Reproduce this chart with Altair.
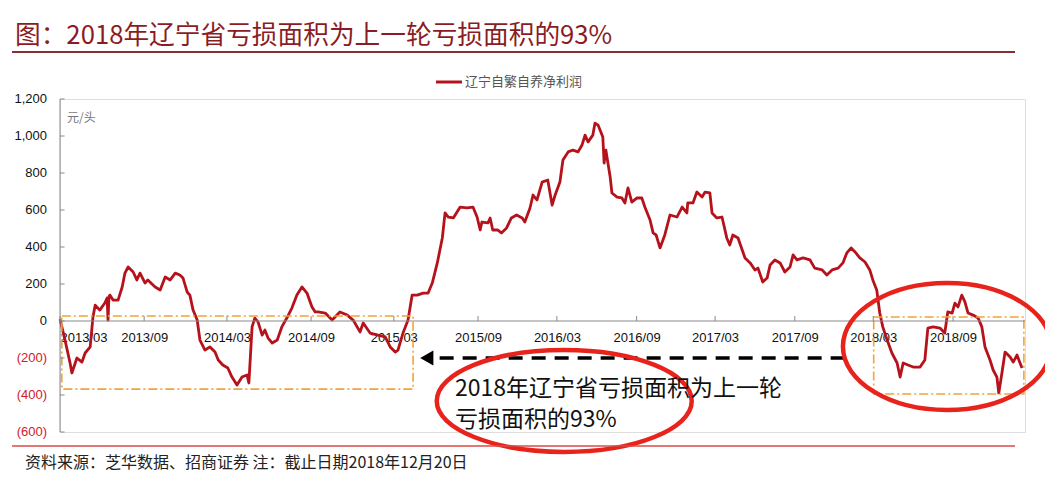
import altair as alt
import pandas as pd

# ---------------- data ----------------
dates = [
    "2013-03-01", "2013-03-12", "2013-03-23", "2013-03-27", "2013-04-07", "2013-04-18", "2013-04-25",
    "2013-05-06", "2013-05-12", "2013-05-17", "2013-05-27", "2013-06-07", "2013-06-12", "2013-06-14",
    "2013-06-16", "2013-06-18", "2013-06-25", "2013-07-06", "2013-07-15", "2013-07-21", "2013-07-28",
    "2013-08-08", "2013-08-16", "2013-08-23", "2013-09-03", "2013-09-09", "2013-09-25", "2013-10-06",
    "2013-10-17", "2013-10-28", "2013-11-08", "2013-11-18", "2013-11-25", "2013-12-04", "2013-12-10",
    "2013-12-17", "2013-12-26", "2014-01-01", "2014-01-12", "2014-01-23", "2014-02-03", "2014-02-10",
    "2014-02-20", "2014-03-03", "2014-03-12", "2014-03-23", "2014-04-03", "2014-04-14", "2014-04-18",
    "2014-04-25", "2014-05-01", "2014-05-08", "2014-05-17", "2014-05-23", "2014-05-30", "2014-06-08",
    "2014-06-19", "2014-06-29", "2014-07-10", "2014-07-21", "2014-08-01", "2014-08-12", "2014-08-23",
    "2014-09-03", "2014-09-10", "2014-09-16", "2014-10-02", "2014-10-17", "2014-11-03", "2014-11-19",
    "2014-12-02", "2014-12-17", "2014-12-24", "2015-01-08", "2015-01-25", "2015-02-10", "2015-02-21",
    "2015-03-04", "2015-03-10", "2015-03-21", "2015-04-01", "2015-04-10", "2015-04-21", "2015-05-04",
    "2015-05-15", "2015-05-24", "2015-06-04", "2015-06-15", "2015-06-21", "2015-06-28", "2015-07-09",
    "2015-07-24", "2015-08-08", "2015-08-21", "2015-08-30", "2015-09-06", "2015-09-10", "2015-09-24",
    "2015-09-29", "2015-10-05", "2015-10-16", "2015-10-25", "2015-11-06", "2015-11-17", "2015-11-29",
    "2015-12-12", "2015-12-18", "2015-12-30", "2016-01-06", "2016-01-15", "2016-01-27", "2016-02-09",
    "2016-02-19", "2016-02-26", "2016-03-08", "2016-03-15", "2016-03-27", "2016-04-07", "2016-04-19",
    "2016-04-28", "2016-05-05", "2016-05-12", "2016-05-23", "2016-05-28", "2016-06-04", "2016-06-15",
    "2016-06-18", "2016-06-22", "2016-07-02", "2016-07-06", "2016-07-18", "2016-07-29", "2016-08-05",
    "2016-08-12", "2016-08-21", "2016-09-02", "2016-09-13", "2016-09-20", "2016-10-02", "2016-10-09",
    "2016-10-16", "2016-10-25", "2016-11-05", "2016-11-17", "2016-12-03", "2016-12-15", "2016-12-26",
    "2016-12-28", "2017-01-09", "2017-01-18", "2017-01-30", "2017-02-06", "2017-02-17", "2017-02-22",
    "2017-03-05", "2017-03-17", "2017-03-28", "2017-04-04", "2017-04-11", "2017-04-23", "2017-05-09",
    "2017-05-21", "2017-06-01", "2017-06-08", "2017-06-19", "2017-06-29", "2017-07-06", "2017-07-17",
    "2017-07-29", "2017-08-09", "2017-08-21", "2017-08-28", "2017-09-06", "2017-09-20", "2017-10-06",
    "2017-10-17", "2017-11-03", "2017-11-14", "2017-11-26", "2017-12-10", "2017-12-21", "2017-12-30",
    "2018-01-09", "2018-01-18", "2018-01-29", "2018-02-10", "2018-02-21", "2018-02-28", "2018-03-09",
    "2018-03-16", "2018-03-23", "2018-04-02", "2018-04-13", "2018-04-25", "2018-05-02", "2018-05-09",
    "2018-05-20", "2018-06-01", "2018-06-17", "2018-06-28", "2018-07-05", "2018-07-17", "2018-08-02",
    "2018-08-13", "2018-08-20", "2018-08-30", "2018-09-04", "2018-09-09", "2018-09-15", "2018-09-20",
    "2018-09-25", "2018-10-03", "2018-10-11", "2018-10-17", "2018-10-22", "2018-10-30", "2018-11-04",
    "2018-11-10", "2018-11-13", "2018-11-18", "2018-11-23", "2018-12-01", "2018-12-06", "2018-12-12",
    "2018-12-15", "2018-12-20",
]
values = [
    10, -103, -227, -281, -200, -222, -173,
    -140, 20, 86, 59, 97, 124, 5,
    130, 140, 113, 113, 184, 259, 292,
    265, 222, 259, 205, 222, 184, 168,
    238, 222, 259, 249, 232, 157, 140,
    59, 5, -103, -157, -140, -168, -211,
    -238, -254, -303, -346, -303, -292, -335,
    -32, 16, -5, -76, -49, -92, -119,
    -103, -32, 16, 70, 140, 184, 151,
    76, 49, 49, 43, 5, 49, 32,
    5, -59, -11, -65, -76, -86, -140,
    -168, -157, -65, 5, 140, 140, 151,
    151, 205, 314, 449, 584, 562, 557,
    616, 611, 616, 562, 492, 535, 530,
    557, 492, 492, 476, 503, 557, 573,
    557, 535, 611, 681, 654, 751, 762,
    627, 681, 751, 870, 914, 924, 914,
    951, 1005, 968, 1005, 1070, 1059, 995,
    854, 924, 778, 692, 670, 665, 638,
    719, 643, 665, 665, 616, 546, 476,
    465, 395, 465, 573, 562, 616, 584,
    638, 638, 697, 670, 697, 692, 584,
    557, 562, 449, 411, 465, 449, 341,
    314, 276, 286, 211, 232, 303, 330,
    314, 265, 292, 357, 330, 341, 330,
    286, 276, 249, 276, 286, 314, 368,
    395, 373, 341, 319, 276, 222, 168,
    43, -32, -103, -173, -227, -303, -227,
    -238, -249, -249, -211, -38, -32, -38,
    -65, 49, 43, 97, 76, 140, 103,
    43, 32, 16, -32, -140, -211, -265,
    -303, -389, -281, -168, -195, -222, -184,
    -211, -254,
]

x_tick_dates = ["2013-03-01", "2013-09-01", "2014-03-01", "2014-09-01", "2015-03-01", "2015-09-01",
                "2016-03-01", "2016-09-01", "2017-03-01", "2017-09-01", "2018-03-01", "2018-09-01"]
y_ticks = [-600, -400, -200, 0, 200, 400, 600, 800, 1000, 1200]
y_tick_labels = ["(600)", "(400)", "(200)", "0", "200", "400", "600", "800", "1,000", "1,200"]

series_name = "辽宁自繁自养净利润"
title_text = "图：2018年辽宁省亏损面积为上一轮亏损面积的93%"
unit_text = "元/头"
note_lines = ["2018年辽宁省亏损面积为上一轮", "亏损面积的93%"]
source_text = "资料来源：芝华数据、招商证券 注：截止日期2018年12月20日"

# highlighted loss periods (dash-dot boxes)
box_start = ["2013-03-05", "2018-03-02"]
box_end = ["2015-04-12", "2018-12-23"]
box_top = [27, 22]
box_bottom = [-368, -395]

# arrow from 2018 loss period back to previous one
arrow_from = ["2017-12-25"]
arrow_to = ["2015-05-26"]
arrow_head = ["2015-05-12"]
arrow_level = [-200]

# ellipse centers
ell1_date, ell1_val = ["2016-03-18"], [-432]
ell2_date, ell2_val = ["2018-08-18"], [-138]

# category-style x axis of the source: piecewise time scale (breakpoints and their pixel offsets)
scale_breaks = ["2013-03-01", "2015-09-01", "2018-09-01", "2018-12-20"]
scale_break_px = [0, 418, 893, 962]

# ---------------- build chart ----------------
LINE = "#B5121B"
ORANGE = "#F2A33A"
RED_RING = "#E8231C"
AXIS_GREY = "#8a8a8a"
CJK = "Noto Sans CJK SC"


def dt(s):
    y, m, d = (int(v) for v in s.split("-"))
    return alt.DateTime(year=y, month=m, date=d, utc=True)


def utc_expr(s):
    y, m, d = (int(v) for v in s.split("-"))
    return f"utc({y},{m - 1},{d})"


xscale = alt.Scale(
    domain={"expr": "[" + ",".join(utc_expr(s) for s in scale_breaks) + "]"},
    range=scale_break_px,
    nice=False,
    type="utc",
)
yscale = alt.Scale(domain=[-600, 1200], nice=False, zero=False)

df = pd.DataFrame({"date": dates, "value": values, "series": series_name})

x_axis = alt.Axis(
    values=[dt(s) for s in x_tick_dates],
    labelExpr="utcFormat(datum.value, '%Y/%m')",
    orient="bottom", offset=-111, domain=False, ticks=False, grid=False, title=None,
    labelFontSize=13, labelFont="Liberation Sans", labelColor="#111111", labelPadding=10,
    labelAngle=0, labelOverlap=False,
)

# main series: carries the only explicit scales; other layers share them
line = alt.Chart(df).mark_line(color=LINE, strokeWidth=2.8, strokeJoin="round").encode(
    x=alt.X("date:T", scale=xscale, axis=x_axis),
    y=alt.Y("value:Q", scale=yscale, axis=None),
)

boxes = alt.Chart(pd.DataFrame({"s": box_start, "e": box_end, "t": box_top, "b": box_bottom})).mark_rect(
    fillOpacity=0, stroke=ORANGE, strokeWidth=1.6, strokeDash=[9, 3, 2, 3]
).encode(
    x=alt.X("s:T", title=None), x2="e:T",
    y=alt.Y("t:Q", axis=None), y2="b:Q",
)

zero_line = alt.Chart(pd.DataFrame({"z": [0]})).mark_rule(color=AXIS_GREY, strokeWidth=1).encode(
    y=alt.Y("z:Q", axis=None)
)

# y axis: vertical domain line, inward ticks and labels (negatives in red brackets)
y_domain = alt.Chart(pd.DataFrame({"s": ["2013-03-01"], "lo": [-600], "hi": [1200]})).mark_rule(
    color=AXIS_GREY, strokeWidth=1
).encode(
    x=alt.X("s:T", title=None),
    y=alt.Y("lo:Q", axis=None), y2="hi:Q",
)
y_ticks_layer = alt.Chart(pd.DataFrame({"v": y_ticks, "s": "2013-03-01", "e": "2013-03-11"})).mark_rule(
    color=AXIS_GREY, strokeWidth=1
).encode(
    x=alt.X("s:T", title=None), x2="e:T",
    y=alt.Y("v:Q", axis=None),
)
y_labels = alt.Chart(pd.DataFrame({"v": y_ticks, "lab": y_tick_labels})).mark_text(
    align="right", baseline="middle", fontSize=13, font="Liberation Sans"
).encode(
    x=alt.value(-13),
    y=alt.Y("v:Q", axis=None),
    text="lab:N",
    color=alt.condition("datum.v < 0", alt.value("#D0202A"), alt.value("#111111")),
)

x_ticks_layer = alt.Chart(pd.DataFrame({"d": x_tick_dates, "a": 0, "b": 27})).mark_rule(
    color=AXIS_GREY, strokeWidth=1
).encode(
    x=alt.X("d:T", title=None),
    y=alt.Y("a:Q", axis=None), y2="b:Q",
)

arrow = alt.Chart(pd.DataFrame({"a": arrow_from, "b": arrow_to, "v": arrow_level})).mark_rule(
    color="black", strokeWidth=3.5, strokeDash=[14, 9]
).encode(
    x=alt.X("a:T", title=None), x2="b:T",
    y=alt.Y("v:Q", axis=None),
)
arrow_tip = alt.Chart(pd.DataFrame({"a": arrow_head, "v": arrow_level})).mark_point(
    shape="triangle-left", filled=True, size=230, color="black", opacity=1
).encode(
    x=alt.X("a:T", title=None),
    y=alt.Y("v:Q", axis=None),
)

ell1 = alt.Chart(pd.DataFrame({"a": ell1_date, "v": ell1_val})).mark_point(
    shape="M-1,0A1,0.4,0,1,1,1,0A1,0.4,0,1,1,-1,0Z", size=65025, filled=False,
    color=RED_RING, strokeWidth=4.5, opacity=1
).encode(
    x=alt.X("a:T", title=None),
    y=alt.Y("v:Q", axis=None),
)
ell2 = alt.Chart(pd.DataFrame({"a": ell2_date, "v": ell2_val})).mark_point(
    shape="M-1,0A1,0.61,0,1,1,1,0A1,0.61,0,1,1,-1,0Z", size=43264, filled=False,
    color=RED_RING, strokeWidth=4.5, opacity=1
).encode(
    x=alt.X("a:T", title=None),
    y=alt.Y("v:Q", axis=None),
)


def text_layer(txt, x, y, size, color, align="left", baseline="alphabetic"):
    return alt.Chart(pd.DataFrame({"t": [txt]})).mark_text(
        align=align, baseline=baseline, fontSize=size, font=CJK, color=color
    ).encode(text="t:N", x=alt.value(x), y=alt.value(y))


def rule_layer(x, x2, y, color, width):
    return alt.Chart(pd.DataFrame({"k": [0]})).mark_rule(color=color, strokeWidth=width).encode(
        x=alt.value(x), x2=alt.value(x2), y=alt.value(y)
    )


title = text_layer(title_text, -45, -55, 25.7, "#8A1C24")
title_rule = rule_layer(-48, 955, -47, "#8A2E36", 2)
legend_line = rule_layer(376, 402, -17, LINE, 3)
legend_text = text_layer(series_name, 405, -17, 13, "#555555", baseline="middle")
unit = text_layer(unit_text, 7, 19, 12, "#777777", baseline="middle")
note1 = text_layer(note_lines[0], 395, 297, 23, "#111111")
note2 = text_layer(note_lines[1], 395, 328, 23, "#111111")
footer_rule = rule_layer(-48, 955, 347, "#D94A45", 1.5)
footer = text_layer(source_text, -35, 364, 16, "#222222", baseline="middle")

chart = alt.layer(
    line, boxes, zero_line, y_domain, y_ticks_layer, y_labels, x_ticks_layer, arrow, arrow_tip,
    ell1, ell2,
    title, title_rule, legend_line, legend_text, unit, note1, note2, footer_rule, footer,
).properties(
    width=965, height=333,
    autosize=alt.AutoSizeParams(type="none"),
    padding={"left": 52, "top": 91, "right": 20, "bottom": 46},
).configure_view(strokeOpacity=0).configure(background="white")

chart.save("out.html", embed_options={"renderer": "svg", "actions": False})
